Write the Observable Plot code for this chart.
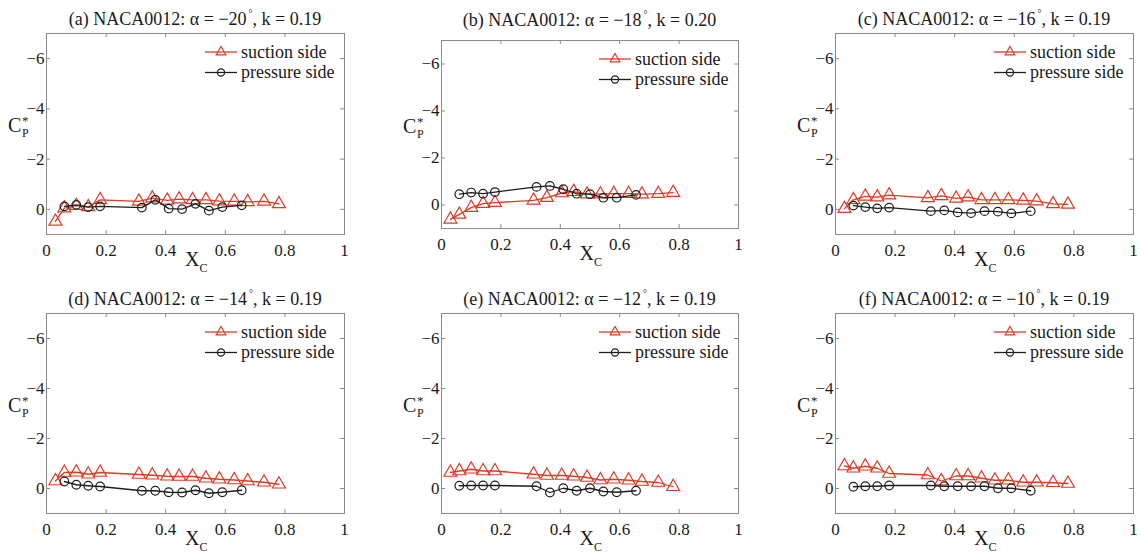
<!DOCTYPE html>
<html>
<head>
<meta charset="utf-8">
<script src="https://cdn.jsdelivr.net/npm/d3@7"></script>
<script src="https://cdn.jsdelivr.net/npm/@observablehq/plot@0.6"></script>
<style>
  html, body { margin: 0; padding: 0; background: #fff; }
  #wrap { position: relative; width: 1143px; height: 554px; overflow: hidden; }
  #wrap svg { position: absolute; font-family: "Liberation Serif", "DejaVu Serif", serif; }
  #wrap svg text { font-family: "Liberation Serif", "DejaVu Serif", serif; }
</style>
</head>
<body>
<div id="wrap"></div>
<script>
// ---- data ----
const panelLabels = ["a", "b", "c", "d", "e", "f"];
const alphas = [-20, -18, -16, -14, -12, -10];
const kValues = ["0.19", "0.20", "0.19", "0.19", "0.19", "0.19"];
const seriesNames = ["suction side", "pressure side"];
const xTicks = [0, 0.2, 0.4, 0.6, 0.8, 1];
const yTicks = [-6, -4, -2, 0];

const xSuction = [0.03, 0.06, 0.10, 0.14, 0.18, 0.31, 0.355, 0.405, 0.445, 0.49, 0.535, 0.58, 0.63, 0.675, 0.73, 0.78];
const xPressure = [0.06, 0.10, 0.14, 0.18, 0.32, 0.365, 0.41, 0.455, 0.50, 0.545, 0.59, 0.655];

const suctionA = [0.48, -0.05, -0.15, -0.10, -0.38, -0.32, -0.45, -0.36, -0.41, -0.38, -0.38, -0.33, -0.32, -0.30, -0.32, -0.22];
const pressureA = [-0.12, -0.18, -0.09, -0.12, -0.07, -0.38, -0.03, -0.01, -0.22, 0.05, -0.09, -0.16];
const suctionB = [0.61, 0.40, 0.11, -0.06, -0.10, -0.20, -0.31, -0.51, -0.57, -0.46, -0.46, -0.48, -0.48, -0.46, -0.48, -0.53];
const pressureB = [-0.46, -0.53, -0.48, -0.55, -0.77, -0.81, -0.67, -0.48, -0.46, -0.31, -0.31, -0.43];
const suctionC = [-0.03, -0.38, -0.52, -0.49, -0.57, -0.46, -0.54, -0.44, -0.49, -0.38, -0.38, -0.38, -0.36, -0.33, -0.22, -0.20];
const pressureC = [-0.15, -0.09, -0.04, -0.07, 0.07, 0.04, 0.12, 0.15, 0.07, 0.09, 0.16, 0.07];
const suctionD = [-0.30, -0.64, -0.65, -0.57, -0.64, -0.56, -0.53, -0.49, -0.48, -0.48, -0.41, -0.37, -0.34, -0.30, -0.25, -0.17];
const pressureD = [-0.28, -0.15, -0.11, -0.08, 0.09, 0.09, 0.15, 0.16, 0.07, 0.19, 0.15, 0.07];
const suctionE = [-0.64, -0.70, -0.77, -0.70, -0.70, -0.57, -0.52, -0.52, -0.49, -0.44, -0.34, -0.37, -0.33, -0.28, -0.24, -0.07];
const pressureE = [-0.11, -0.12, -0.12, -0.12, -0.09, 0.16, -0.01, 0.09, -0.01, 0.12, 0.15, 0.09];
const suctionF = [-0.90, -0.81, -0.89, -0.81, -0.60, -0.54, -0.30, -0.50, -0.50, -0.41, -0.33, -0.33, -0.25, -0.25, -0.23, -0.20];
const pressureF = [-0.07, -0.09, -0.09, -0.12, -0.12, -0.09, -0.09, -0.09, -0.09, -0.01, -0.01, 0.09];

const suctionAll = [suctionA, suctionB, suctionC, suctionD, suctionE, suctionF];
const pressureAll = [pressureA, pressureB, pressureC, pressureD, pressureE, pressureF];

// ---- layout ----
const RED = "#de3b26";
const BLACK = "#1e1e1e";
const FRAME = "#8a8a8a";
const FONT = "Liberation Serif, DejaVu Serif, serif";

// svg box and margins [top, right, bottom, left]
const boxes = [
  {L: 0,   T: 0,   W: 380, H: 282, m: [33, 36, 48, 46], titleY: 25},
  {L: 380, T: 0,   W: 380, H: 282, m: [40, 22, 54, 61], titleY: 26},
  {L: 760, T: 0,   W: 383, H: 282, m: [33, 10, 48, 75], titleY: 25},
  {L: 0,   T: 282, W: 380, H: 272, m: [31, 36, 41, 46], titleY: 23},
  {L: 380, T: 282, W: 380, H: 272, m: [31, 22, 41, 61], titleY: 23},
  {L: 760, T: 282, W: 383, H: 272, m: [31, 10, 41, 75], titleY: 23}
];

const fmtX = d => (d === 0 ? "0" : d === 1 ? "1" : d.toFixed(1));
const fmtY = d => (d < 0 ? "\u2212" + (-d) : String(d));

const wrap = document.getElementById("wrap");

boxes.forEach((b, i) => {
  const [mt, mr, mb, ml] = b.m;
  const fw = b.W - ml - mr;
  const fh = b.H - mt - mb;
  const suction = xSuction.map((x, j) => ({x, y: suctionAll[i][j]}));
  const pressure = xPressure.map((x, j) => ({x, y: pressureAll[i][j]}));
  const innerX = xTicks.filter(d => d > 0 && d < 1);

  const chart = Plot.plot({
    width: b.W, height: b.H,
    marginTop: mt, marginRight: mr, marginBottom: mb, marginLeft: ml,
    style: {fontFamily: FONT, fontSize: "17px", color: "#1a1a1a", background: "transparent", overflow: "visible"},
    x: {domain: [0, 1], axis: null},
    y: {domain: [1, -7], axis: null},
    marks: [
      Plot.frame({stroke: FRAME, strokeWidth: 1}),
      Plot.ruleX(innerX, {insetTop: fh - 4, stroke: FRAME}),
      Plot.ruleX(innerX, {insetBottom: fh - 4, stroke: FRAME}),
      Plot.ruleY(yTicks, {insetRight: fw - 4, stroke: FRAME}),
      Plot.ruleY(yTicks, {insetLeft: fw - 4, stroke: FRAME}),
      Plot.axisX({ticks: xTicks, tickSize: 0, tickPadding: 9, tickFormat: fmtX, label: null, fontSize: 17, fontFamily: FONT}),
      Plot.axisY({ticks: yTicks, tickSize: 0, tickPadding: 2, tickFormat: fmtY, label: null, fontSize: 17, fontFamily: FONT}),
      Plot.line(suction, {x: "x", y: "y", stroke: RED, strokeWidth: 1.3}),
      Plot.dot(suction, {x: "x", y: "y", symbol: "triangle", r: 4.8, stroke: RED, fill: "none", strokeWidth: 1.2}),
      Plot.line(pressure, {x: "x", y: "y", stroke: BLACK, strokeWidth: 1.3}),
      Plot.dot(pressure, {x: "x", y: "y", symbol: "circle", r: 4.3, stroke: BLACK, fill: "none", strokeWidth: 1.2})
    ]
  });
  chart.style.left = b.L + "px";
  chart.style.top = b.T + "px";
  wrap.appendChild(chart);

  const sx = chart.scale("x").apply;
  const sy = chart.scale("y").apply;
  const svg = d3.select(chart);
  const frameRight = b.W - mr;
  const cx = (ml + frameRight) / 2;

  // title
  const t = svg.append("text")
    .attr("x", cx).attr("y", b.titleY)
    .attr("text-anchor", "middle")
    .attr("font-family", FONT).attr("font-size", 18).attr("fill", "#1a1a1a");
  t.append("tspan").text(`(${panelLabels[i]}) NACA0012: \u03b1 = \u2212${-alphas[i]}`);
  t.append("tspan").attr("dx", 2).attr("dy", -8).attr("font-size", 10).text("\u00b0");
  t.append("tspan").attr("dy", 8).text(`, k = ${kValues[i]}`);

  // y label C_P^*
  const ly = sy(-3.05);
  const lx = ml - 38;
  const yl = svg.append("text").attr("font-family", FONT).attr("fill", "#1a1a1a")
    .attr("text-anchor", "start")
    .attr("x", lx).attr("y", ly).attr("font-size", 20);
  yl.append("tspan").text("C");
  yl.append("tspan").attr("x", lx + 14).attr("y", ly - 7).attr("font-size", 13).text("*");
  yl.append("tspan").attr("x", lx + 14).attr("y", ly + 5).attr("font-size", 12).text("P");

  // x label X_C
  const xlY = b.H - mb + 32;
  const xl = svg.append("text").attr("font-family", FONT).attr("fill", "#1a1a1a")
    .attr("text-anchor", "start")
    .attr("x", sx(0.5) - 10).attr("y", xlY).attr("font-size", 20);
  xl.append("tspan").text("X");
  xl.append("tspan").attr("dy", 6).attr("font-size", 12).text("C");

  // legend
  const lg = svg.append("g").attr("font-family", FONT).attr("font-size", 18).attr("fill", "#1a1a1a")
    .attr("text-anchor", "start");
  const rows = [
    {name: seriesNames[0], color: RED, sym: "triangle"},
    {name: seriesNames[1], color: BLACK, sym: "circle"}
  ];
  rows.forEach((r, k) => {
    const yy = mt + 19 + k * 20.5;
    const x1 = frameRight - 139, x2 = frameRight - 107;
    lg.append("line").attr("x1", x1).attr("x2", x2).attr("y1", yy).attr("y2", yy)
      .attr("stroke", r.color).attr("stroke-width", 1.3);
    const mx = (x1 + x2) / 2;
    if (r.sym === "triangle") {
      lg.append("path").attr("d", d3.symbol(d3.symbolTriangle, 40)()).attr("transform", `translate(${mx},${yy})`)
        .attr("fill", "none").attr("stroke", r.color).attr("stroke-width", 1.2);
    } else {
      lg.append("circle").attr("cx", mx).attr("cy", yy).attr("r", 3.6)
        .attr("fill", "none").attr("stroke", r.color).attr("stroke-width", 1.2);
    }
    lg.append("text").attr("text-anchor", "start").attr("x", frameRight - 103).attr("y", yy + 5.5).text(r.name);
  });
});
</script>
</body>
</html>
